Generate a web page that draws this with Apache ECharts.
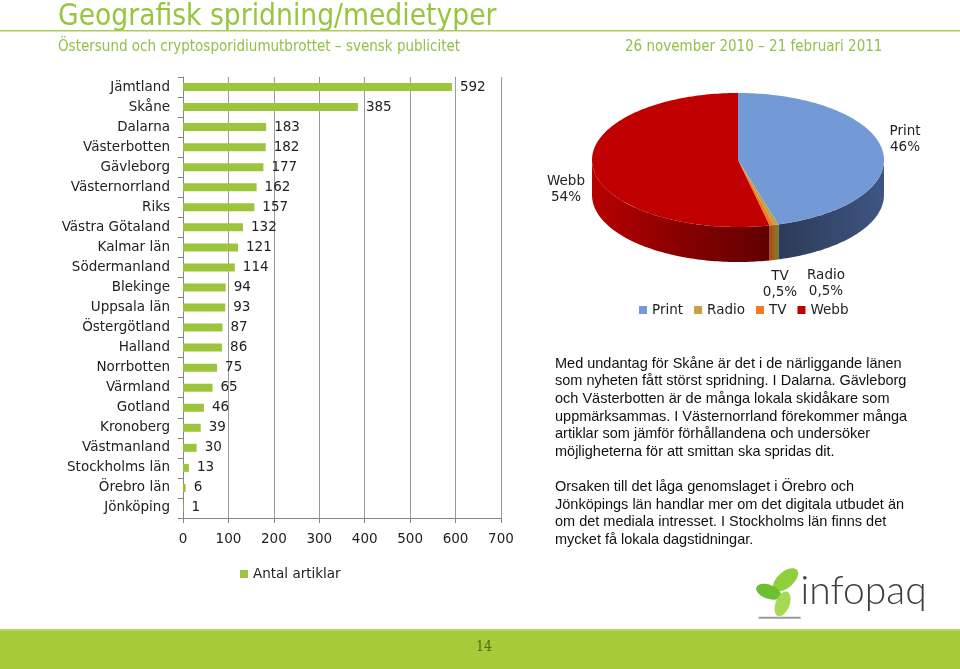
<!DOCTYPE html>
<html>
<head>
<meta charset="utf-8">
<script src="https://cdn.jsdelivr.net/npm/echarts@6/dist/echarts.min.js"></script>
<style>
  html, body { margin: 0; padding: 0; background: #fff; }
  #chart { width: 960px; height: 669px; }
</style>
</head>
<body>
<div id="chart"></div>
<script>
// bar chart data
const categories = ["Jämtland", "Skåne", "Dalarna", "Västerbotten", "Gävleborg", "Västernorrland", "Riks",
  "Västra Götaland", "Kalmar län", "Södermanland", "Blekinge", "Uppsala län", "Östergötland", "Halland",
  "Norrbotten", "Värmland", "Gotland", "Kronoberg", "Västmanland", "Stockholms län", "Örebro län", "Jönköping"];
const articles = [592, 385, 183, 182, 177, 162, 157, 132, 121, 114, 94, 93, 87, 86, 75, 65, 46, 39, 30, 13, 6, 1];
const xMin = 0;
const xMax = 700;
const xStep = 100;

// pie data
const mediaTypes = ["Print", "Radio", "TV", "Webb"];
const mediaShares = [46, 0.5, 0.5, 54];

const paragraphs = [
  "Med undantag för Skåne är det i de närliggande länen",
  "som nyheten fått störst spridning. I Dalarna. Gävleborg",
  "och Västerbotten är de många lokala skidåkare som",
  "uppmärksammas. I Västernorrland förekommer många",
  "artiklar som jämför förhållandena och undersöker",
  "möjligheterna för att smittan ska spridas dit.",
  "",
  "Orsaken till det låga genomslaget i Örebro och",
  "Jönköpings län handlar mer om det digitala utbudet än",
  "om det mediala intresset. I Stockholms län finns det",
  "mycket få lokala dagstidningar."
];

const green = "#9dc53b";
const font = "DejaVu Sans";

// 3D pie geometry
const pie = { cx: 738, cy: 160, rx: 146, ry: 67, depth: 35 };
const topColors = ["#7399d7", "#c0a23e", "#f07c28", "#c00000"];
const sideColors = [
  { type: "linear", x: 780, y: 0, x2: 884, y2: 0, global: true,
    colorStops: [{ offset: 0, color: "#2c3b58" }, { offset: 1, color: "#3f5683" }] },
  "#8a7322",
  "#a8521a",
  { type: "linear", x: 592, y: 0, x2: 780, y2: 0, global: true,
    colorStops: [{ offset: 0, color: "#b80000" }, { offset: 0.5, color: "#850000" }, { offset: 1, color: "#5c0000" }] }
];
const labelAnchors = [[905, 139], [826, 283], [780, 284], [566, 189]];

const shareTotal = mediaShares.reduce((a, b) => a + b, 0);

function arc(a0, a1, dy) {
  const n = Math.max(2, Math.ceil((a1 - a0) / 0.02));
  const pts = [];
  for (let k = 0; k <= n; k++) {
    const a = a0 + (a1 - a0) * k / n;
    pts.push([pie.cx + pie.rx * Math.sin(a), pie.cy - pie.ry * Math.cos(a) + dy]);
  }
  return pts;
}

function sliceRenderer(index) {
  return function (params, api) {
    let start = 0;
    for (let j = 0; j < index; j++) start += mediaShares[j];
    const a0 = start / shareTotal * Math.PI * 2;
    const a1 = (start + api.value(0)) / shareTotal * Math.PI * 2;
    const children = [];
    const b0 = Math.max(a0, Math.PI / 2);
    const b1 = Math.min(a1, Math.PI * 1.5);
    if (b1 > b0) {
      const upper = arc(b0, b1, 0);
      const lower = arc(b0, b1, pie.depth).reverse();
      children.push({
        type: "polygon",
        z2: 1,
        shape: { points: upper.concat(lower) },
        style: { fill: sideColors[index] }
      });
    }
    children.push({
      type: "polygon",
      z2: 2,
      shape: { points: [[pie.cx, pie.cy]].concat(arc(a0, a1, 0)) },
      style: { fill: topColors[index] }
    });
    const pct = String(api.value(0)).replace(".", ",") + "%";
    children.push({
      type: "text",
      z2: 3,
      x: labelAnchors[index][0],
      y: labelAnchors[index][1],
      style: {
        text: mediaTypes[index] + "\n" + pct,
        font: "13.5px '" + font + "'",
        fill: "#222",
        align: "center",
        verticalAlign: "middle",
        lineHeight: 16
      }
    });
    return { type: "group", children: children };
  };
}

const chart = echarts.init(document.getElementById("chart"));

chart.setOption({
  animation: false,
  backgroundColor: "#fff",
  textStyle: { fontFamily: font },
  legend: [
    {
      data: ["Antal artiklar"],
      left: 235,
      top: 562,
      icon: "rect",
      itemWidth: 8,
      itemHeight: 8,
      itemGap: 10,
      textStyle: { fontFamily: font, fontSize: 13.5, color: "#222" }
    },
    {
      data: mediaTypes,
      left: 634,
      top: 298,
      icon: "rect",
      itemWidth: 8,
      itemHeight: 8,
      itemGap: 11,
      textStyle: { fontFamily: font, fontSize: 13.5, color: "#222" }
    }
  ],
  grid: {
    left: 183,
    right: 459,
    top: 77,
    bottom: 151,
    containLabel: false
  },
  xAxis: {
    type: "value",
    min: xMin,
    max: xMax,
    interval: xStep,
    axisLine: { show: true, lineStyle: { color: "#868686" } },
    axisTick: { show: true, length: 5, lineStyle: { color: "#868686" } },
    splitLine: { show: true, lineStyle: { color: "#9a9a9a", width: 1 } },
    axisLabel: { color: "#222", fontSize: 13.5, fontFamily: font, margin: 14 }
  },
  yAxis: {
    type: "category",
    inverse: true,
    data: categories,
    axisLine: { show: true, lineStyle: { color: "#868686" } },
    axisTick: { show: true, length: 5, lineStyle: { color: "#868686" } },
    axisLabel: { color: "#222", fontSize: 13.5, fontFamily: font, margin: 13 }
  },
  series: [
    {
      name: "Antal artiklar",
      type: "bar",
      data: articles,
      barWidth: 8,
      itemStyle: { color: green },
      label: {
        show: true,
        position: "right",
        distance: 8,
        color: "#222",
        fontSize: 13.5,
        fontFamily: font
      }
    }
  ].concat(mediaTypes.map((name, i) => ({
    name: name,
    type: "custom",
    coordinateSystem: "none",
    itemStyle: { color: topColors[i] },
    data: [[mediaShares[i]]],
    renderItem: sliceRenderer(i)
  }))),
  graphic: [
    {
      type: "text",
      x: 58,
      y: 17,
      style: {
        text: "Geografisk spridning/medietyper",
        font: "29.6px 'DejaVu Sans Condensed'",
        fill: "#98c53e",
        verticalAlign: "middle"
      }
    },
    {
      type: "rect",
      left: 0,
      top: 30,
      shape: { width: 960, height: 1.5 },
      style: { fill: "#a9cc5c" }
    },
    {
      type: "text",
      x: 58,
      y: 47,
      style: {
        text: "Östersund och cryptosporidiumutbrottet – svensk publicitet",
        font: "15px 'DejaVu Sans Condensed'",
        fill: "#93c147",
        verticalAlign: "middle"
      }
    },
    {
      type: "text",
      x: 625,
      y: 47,
      style: {
        text: "26 november 2010 – 21 februari 2011",
        font: "15px 'DejaVu Sans Condensed'",
        fill: "#93c147",
        verticalAlign: "middle"
      }
    },
    {
      type: "text",
      left: 555,
      top: 355,
      style: {
        text: paragraphs.join("\n"),
        font: "14.5px 'Liberation Sans'",
        fill: "#111",
        lineHeight: 17.6
      }
    },
    // infopaq logo
    {
      type: "group",
      left: 754,
      top: 564,
      children: [
        { type: "ellipse", shape: { cx: 31, cy: 15, rx: 15, ry: 8 }, rotation: 0.7,
          originX: 31, originY: 15, style: { fill: "#8fcf3c" } },
        { type: "ellipse", shape: { cx: 14, cy: 27, rx: 13, ry: 7 }, rotation: -0.35,
          originX: 14, originY: 27, style: { fill: "#6cbf2f" } },
        { type: "ellipse", shape: { cx: 28, cy: 39, rx: 13, ry: 7 }, rotation: 1.2,
          originX: 28, originY: 39, style: { fill: "#a6da55" } },
        { type: "rect", shape: { x: 4, y: 52, width: 42, height: 2 }, style: { fill: "#9a9a9a" } },
        { type: "text", x: 46, y: 27,
          style: { text: "infopaq", font: "300 39px 'Lato'", fill: "#3d3d3d", verticalAlign: "middle" } }
      ]
    },
    // footer band
    {
      type: "rect",
      left: 0,
      top: 630,
      shape: { width: 960, height: 39 },
      style: { fill: "#a5cc38" }
    },
    {
      type: "rect",
      left: 0,
      top: 629,
      shape: { width: 960, height: 2 },
      style: { fill: "#b5d46a" }
    },
    {
      type: "text",
      left: 476,
      top: 640,
      style: { text: "14", font: "14px 'DejaVu Serif Condensed'", fill: "#4f6b1c" }
    }
  ]
});

window.addEventListener("resize", () => chart.resize());
</script>
</body>
</html>
